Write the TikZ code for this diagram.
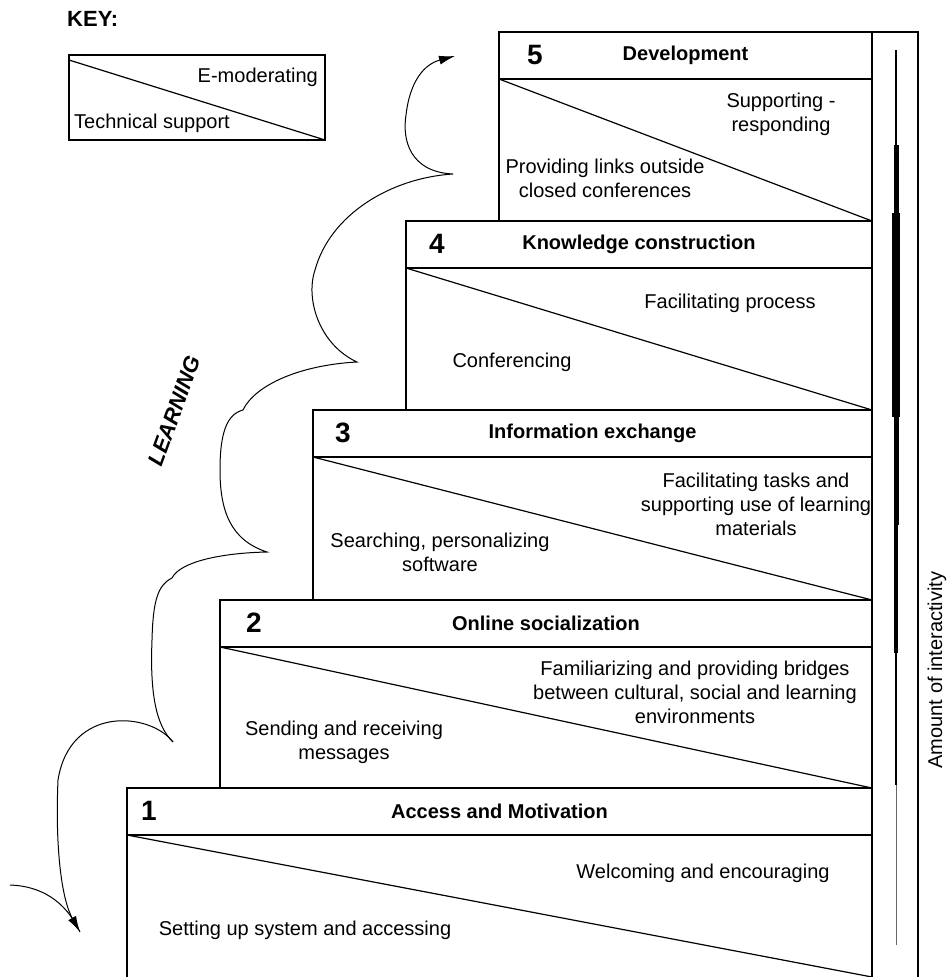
\documentclass[tikz,border=0pt]{standalone}
\usepackage{fontspec}
\setmainfont{Liberation Sans}
\usetikzlibrary{arrows.meta, positioning}

\begin{document}
\begin{tikzpicture} [x = 1pt, y = -1pt,
    frame/.style = {draw, line width = 1.2pt},
    stepnum/.style = {font = \fontsize{28}{28}\selectfont\bfseries, inner sep = 0pt},
    stephead/.style = {font = \fontsize{20}{24}\selectfont\bfseries, inner sep = 0pt},
    body/.style = {font = \fontsize{20}{24}\selectfont, align = center, inner sep = 0pt},
    squiggle/.style = {line width = 1pt},
    tip/.style = {-{Latex[length = 16pt, width = 9pt]}}]

    \useasboundingbox (0,0) rectangle (948,977);

    \node (key) [font = \fontsize{22}{22}\selectfont\bfseries, anchor = west, inner sep = 0pt] at (67,19) {KEY:};
    \draw [frame] (69,55) rectangle (325,140);
    \draw [frame] (69,60) -- (325,140);
    \node (emod) [body, anchor = east] at (318,77) {E-moderating};
    \node (tech) [body, anchor = west] at (74,123) {Technical support};

    \draw [frame] (127,788) rectangle (872,978);
    \draw [frame] (127,835) -- (872,835);
    \draw [frame] (127,835) -- (872,977);
    \node (s1num) [stepnum] at (149,811) {1};
    \node (s1head) [stephead] at (499.5,811.5) {Access and Motivation};
    \node (s1emod) [body] at (703,873) {Welcoming and encouraging};
    \node (s1tech) [body] at (305,930) {Setting up system and accessing};

    \draw [frame] (220,600) rectangle (872,788);
    \draw [frame] (220,647) -- (872,647);
    \draw [frame] (220,647) -- (872,788);
    \node (s2num) [stepnum] at (254,623) {2};
    \node (s2head) [stephead] at (546,623.5) {Online socialization};
    \node (s2emod) [body] at (695,692) {Familiarizing and providing bridges\\between cultural, social and learning\\environments};
    \node (s2tech) [body] at (344,742) {Sending and receiving\\messages};

    \draw [frame] (313,410) rectangle (872,600);
    \draw [frame] (313,457) -- (872,457);
    \draw [frame] (313,457) -- (872,600);
    \node (s3num) [stepnum] at (343,433) {3};
    \node (s3head) [stephead] at (592.5,433.5) {Information exchange};
    \node (s3emod) [body] at (756,504) {Facilitating tasks and\\supporting use of learning\\materials};
    \node (s3tech) [body] at (440,552) {Searching, personalizing\\software};

    \draw [frame] (406,221) rectangle (872,410);
    \draw [frame] (406,268) -- (872,268);
    \draw [frame] (406,268) -- (872,410);
    \node (s4num) [stepnum] at (437,244) {4};
    \node (s4head) [stephead] at (639,244.5) {Knowledge construction};
    \node (s4emod) [body] at (730,303) {Facilitating process};
    \node (s4tech) [body] at (512,362) {Conferencing};

    \draw [frame] (499,32) rectangle (872,221);
    \draw [frame] (499,79) -- (872,79);
    \draw [frame] (499,79) -- (872,221);
    \node (s5num) [stepnum] at (535,55) {5};
    \node (s5head) [stephead] at (685.5,55.5) {Development};
    \node (s5emod) [body] at (781,114) {Supporting -\\responding};
    \node (s5tech) [body] at (605,178) {Providing links outside\\closed conferences};

    \draw [frame] (872,32) rectangle (918,979);
    \draw [line width = 1.5pt] (896,50) -- (896,145);
    \draw [line width = 5pt] (896,145) -- (896,213);
    \draw [line width = 8pt] (896,213) -- (896,417);
    \draw [line width = 5pt] (896,417) -- (896,525);
    \draw [line width = 3.5pt] (896,525) -- (896,653);
    \draw [line width = 2pt] (896,653) -- (896,785);
    \draw [line width = 0.7pt, black!60] (896,785) -- (896,945);
    \node (amount) [body, rotate = 90] at (937,670) {Amount of interactivity};

    \node (learning) [font = \fontsize{22}{22}\selectfont\bfseries\itshape, rotate = 70, inner sep = 0pt] at (174,411) {LEARNING};

    \coordinate (enter) at (10,885);
    \coordinate (land) at (80,932);
    \coordinate (cusp1) at (173,742);
    \coordinate (notch1) at (172,578);
    \coordinate (cusp2) at (267,552);
    \coordinate (notch2) at (243,410);
    \coordinate (cusp3) at (357,362);
    \coordinate (cusp4) at (453,174);
    \coordinate (goal) at (455,56);

    \draw [squiggle] (enter) .. controls (40,886) and (65,900) .. (land);
    \draw [squiggle, tip] (cusp1) .. controls (150,712) and (70,705) .. (58,780) .. controls (55,850) and (62,900) .. (land);
    \draw [squiggle, tip] (cusp1) .. controls (155,725) and (150,690) .. (152,640) .. controls (153,600) and (158,585) .. (notch1)
        .. controls (180,562) and (220,553) .. (cusp2)
        .. controls (230,540) and (220,510) .. (220,470) .. controls (220,430) and (228,414) .. (notch2)
        .. controls (255,385) and (300,365) .. (cusp3)
        .. controls (320,345) and (305,300) .. (315,270) .. controls (330,215) and (390,178) .. (cusp4)
        .. controls (410,172) and (402,140) .. (406,115) .. controls (410,80) and (425,64) .. (goal);

\end{tikzpicture}
\end{document}
